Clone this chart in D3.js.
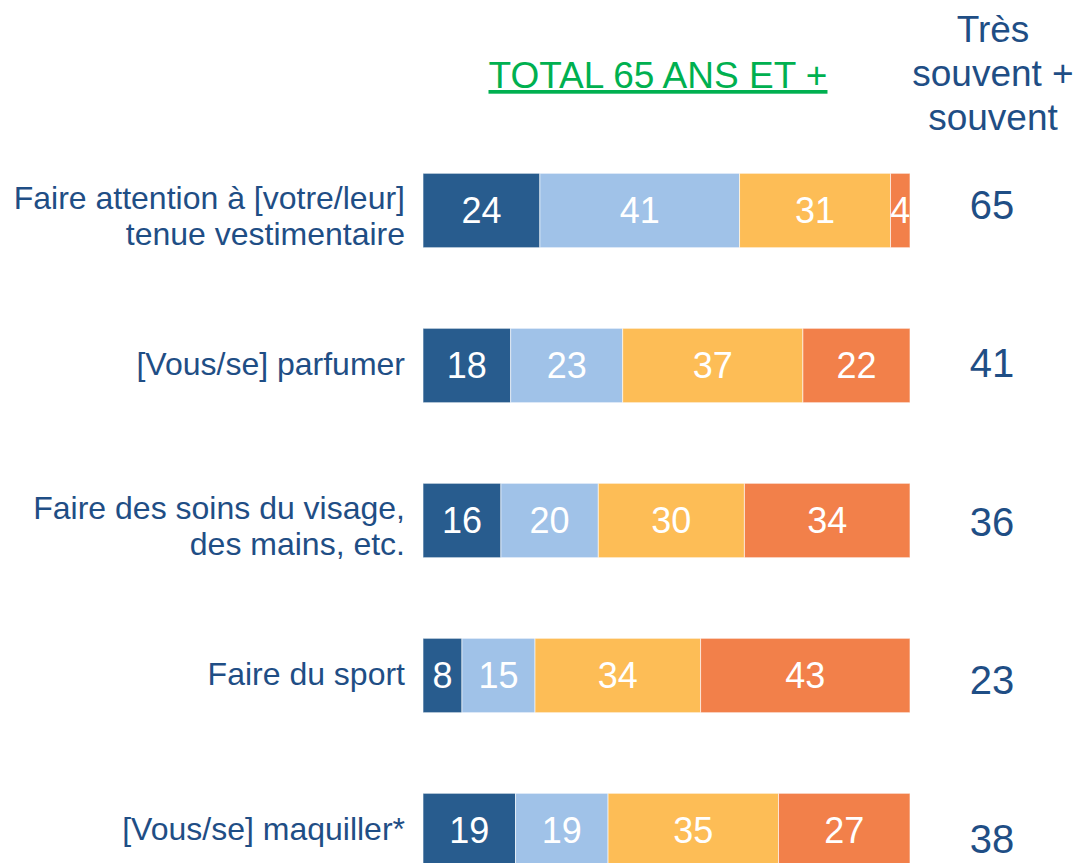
<!DOCTYPE html>
<html>
<head>
  <meta charset="utf-8">
  <title>Total 65 ans et +</title>
  <script src="https://d3js.org/d3.v7.min.js"></script>
  <style>
  body {
    margin: 0;
    background: white;
  }
  text {
    font-family: "Liberation Sans", Arial, sans-serif;
  }
  .cat {
    font-size: 32px;
    fill: #1f4e85;
  }
  .val {
    font-size: 36px;
    fill: white;
  }
  .tot {
    font-size: 40px;
    fill: #1f4e85;
  }
  .head {
    font-size: 37px;
    fill: #1f4e85;
  }
  </style>
</head>
<body>
<div id="chart"></div>
<script>

var categories = [
  ['Faire attention à [votre/leur]', 'tenue vestimentaire'],
  ['[Vous/se] parfumer'],
  ['Faire des soins du visage,', 'des mains, etc.'],
  ['Faire du sport'],
  ['[Vous/se] maquiller*']
]
var tresSouvent = [24, 18, 16, 8, 19]
var souvent = [41, 23, 20, 15, 19]
var rarement = [31, 37, 30, 34, 35]
var jamais = [4, 22, 34, 43, 27]
var totals = [65, 41, 36, 23, 38]

var keys = ['tresSouvent', 'souvent', 'rarement', 'jamais']
var colors = ['#285c8e', '#a0c2e8', '#fdbd56', '#f2804a']

const width = 1077
const height = 863

var rows = categories.map((c, i) => ({
  idx: i,
  tresSouvent: tresSouvent[i],
  souvent: souvent[i],
  rarement: rarement[i],
  jamais: jamais[i]
}))

var svg = d3.select('#chart')
  .append('svg')
  .attr('width', width)
  .attr('height', height)

var x = d3.scaleLinear()
  .domain([0, 100])
  .range([423, 910])

// band scale, step 155, bars ~74px tall
var y = d3.scaleBand()
  .domain(d3.range(categories.length))
  .range([133, 133 + 155 * categories.length])
  .paddingInner(0.52)
  .paddingOuter(0.26)

var stack = d3.stack().keys(keys)
var series = stack(rows)

var layer = svg.selectAll('.layer')
  .data(series)
  .enter()
  .append('g')
  .attr('class', 'layer')
  .style('fill', (d, i) => colors[i])

layer.selectAll('rect')
  .data(d => d)
  .enter()
  .append('rect')
  .attr('x', d => x(d[0]))
  .attr('y', d => y(d.data.idx))
  .attr('width', d => x(d[1]) - x(d[0]))
  .attr('height', y.bandwidth())
  .style('stroke', 'rgba(255,255,255,0.6)')
  .style('stroke-width', 1)

layer.selectAll('.val')
  .data(d => d)
  .enter()
  .append('text')
  .attr('class', 'val')
  .attr('x', d => (x(d[0]) + x(d[1])) / 2)
  .attr('y', d => y(d.data.idx) + y.bandwidth() / 2)
  .attr('dy', '0.36em')
  .attr('text-anchor', 'middle')
  .text(d => d[1] - d[0])

// category labels
var cat = svg.selectAll('.cat')
  .data(categories)
  .enter()
  .append('text')
  .attr('class', 'cat')
  .attr('text-anchor', 'end')
  .attr('x', 405)
  .attr('y', (d, i) => y(i) + y.bandwidth() / 2 + (d.length > 1 ? 5 : -2))

cat.selectAll('tspan')
  .data(d => d.map((t, j) => ({t: t, j: j, n: d.length})))
  .enter()
  .append('tspan')
  .attr('x', 405)
  .attr('dy', d => d.j === 0 ? (0.36 - (d.n - 1) * 0.56) + 'em' : '1.12em')
  .text(d => d.t)

// totals column (drifts slightly lower row by row, as in the original)
svg.selectAll('.tot')
  .data(totals)
  .enter()
  .append('text')
  .attr('class', 'tot')
  .attr('x', 992)
  .attr('y', (d, i) => y(i) + y.bandwidth() / 2 - 6 + i * 3.5)
  .attr('dy', '0.36em')
  .attr('text-anchor', 'middle')
  .text(d => d)

// header
svg.append('text')
  .attr('class', 'head')
  .attr('x', 658)
  .attr('y', 88)
  .attr('text-anchor', 'middle')
  .style('fill', '#00b050')
  .style('text-decoration', 'underline')
  .text('TOTAL 65 ANS ET +')

var head = svg.append('text')
  .attr('class', 'head')
  .attr('text-anchor', 'middle')
  .attr('x', 993)
  .attr('y', 42)

;['Très', 'souvent +', 'souvent'].forEach((t, i) => {
  head.append('tspan')
    .attr('x', 993)
    .attr('dy', i === 0 ? 0 : 44)
    .text(t)
})

</script>
</body>
</html>
